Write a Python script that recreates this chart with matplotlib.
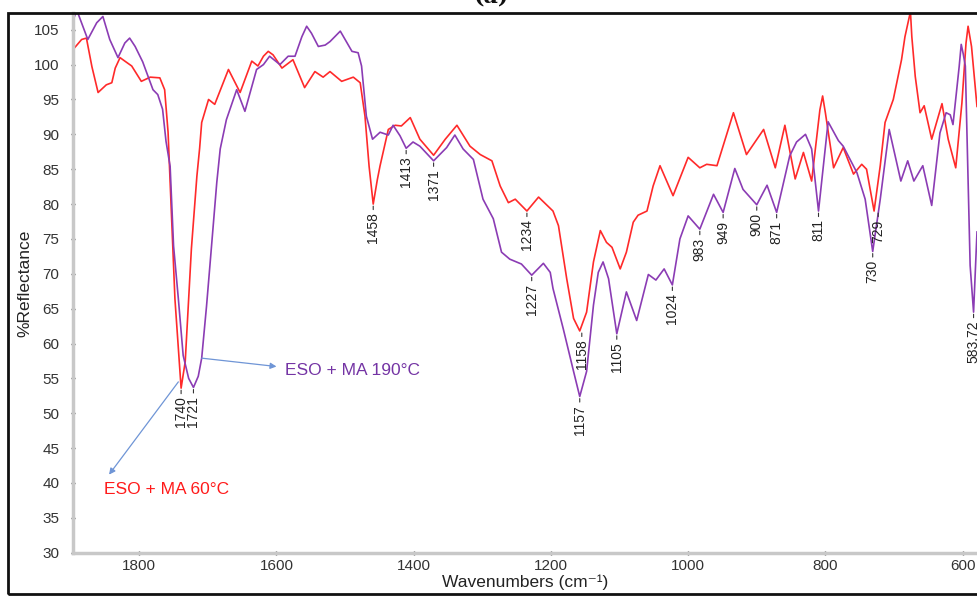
import matplotlib
matplotlib.use('Agg')
import matplotlib.pyplot as plt
from matplotlib.patches import Rectangle
from matplotlib.ticker import MultipleLocator

plt.rcParams['font.family'] = ['Liberation Sans', 'DejaVu Sans']

# ESO + MA 60°C (red)
wn_60 = [1897, 1884, 1877, 1869, 1860, 1848, 1840, 1835, 1828, 1821, 1811, 1797,
         1784, 1770, 1763, 1758,
         1748, 1739, 1733, 1724, 1716, 1712, 1709, 1699, 1690, 1670, 1653, 1636,
         1627, 1619, 1612, 1605, 1592, 1576, 1559, 1544, 1532, 1522, 1505, 1488,
         1478, 1471,
         1465, 1459, 1453, 1449, 1437, 1427, 1418, 1405, 1391, 1371, 1354, 1337,
         1318, 1303, 1286, 1274, 1262, 1252, 1235, 1218, 1197, 1189, 1177, 1167,
         1158, 1148, 1138, 1128, 1119, 1111, 1099, 1090, 1080, 1073, 1060, 1051,
         1041, 1022, 1000, 983, 973, 958, 934, 915, 890, 873, 859, 844,
         832, 820, 808, 804, 800, 788, 774, 759, 747, 740, 729, 720, 713, 701,
         689, 684, 676, 674, 669, 662, 656, 645, 630, 621, 610, 601, 595, 592,
         587, 579]
refl_60 = [102.1, 103.6, 103.8, 99.7, 96.0, 97.1, 97.4, 99.5, 101.0, 100.5, 99.8, 97.6,
           98.2, 98.1, 96.4, 90.3,
           66.4, 53.6, 57.4, 73.6, 84.0, 88.0, 91.7, 95.0, 94.3, 99.3, 96.0, 100.5,
           99.8, 101.2, 101.9, 101.4, 99.5, 100.7, 96.7, 99.0, 98.2, 99.0, 97.6, 98.2,
           97.4, 92.6,
           85.4, 80.0, 83.5, 85.5, 90.7, 91.3, 91.2, 92.4, 89.3, 87.0, 89.3, 91.3,
           88.3, 87.1, 86.2, 82.6, 80.2, 80.7, 79.0, 81.0, 79.0, 76.9, 69.3, 63.6,
           61.8, 64.5, 71.7, 76.2, 74.5, 73.8, 70.7, 73.1, 77.4, 78.4, 79.0, 82.6,
           85.5, 81.2, 86.7, 85.2, 85.7, 85.5, 93.1, 87.1, 90.7, 85.2, 91.3, 83.6,
           87.4, 83.3, 93.5, 95.5, 93.1, 85.2, 88.1, 84.3, 85.7, 85.0, 79.0, 85.5, 91.7, 95.0,
           100.7, 104.0, 107.6, 104.0, 98.3, 93.1, 94.1, 89.3, 94.4, 89.3, 85.2, 94.5, 103.1, 105.5,
           102.6, 94.0]

# ESO + MA 190°C (purple)
wn_190 = [1897, 1891, 1875, 1862, 1853, 1843, 1831, 1821, 1814, 1806, 1795, 1780,
          1773, 1766, 1761, 1755,
          1750, 1743, 1736, 1728, 1721, 1714, 1709, 1702, 1697, 1687, 1682, 1673,
          1658, 1646, 1629, 1619, 1610, 1595, 1583, 1573, 1563, 1556, 1549, 1539,
          1529, 1522,
          1507, 1490, 1481, 1476, 1469, 1460, 1449, 1437, 1430, 1420, 1411, 1401,
          1391, 1371, 1352, 1340, 1328, 1313, 1299, 1284, 1272, 1260, 1243, 1228,
          1211, 1201, 1197, 1182, 1167, 1158, 1148, 1138, 1131, 1124, 1116, 1104,
          1090, 1075, 1058, 1047, 1035, 1023, 1012, 1000, 983, 963, 949, 932,
          920, 900, 885, 871, 852, 842, 829, 820, 810, 796, 781, 774,
          754, 742, 731, 720, 707, 690, 680, 671, 658, 645, 633, 624,
          618, 614, 609, 605, 602, 599, 596, 589, 584, 579]
refl_190 = [106.2, 107.8, 103.6, 106.0, 106.9, 103.6, 101.0, 103.1, 103.8, 102.6, 100.4, 96.4,
            95.7, 93.6, 89.0, 85.4,
            74.0, 66.4, 58.3, 55.0, 53.7, 55.3, 57.9, 65.3, 71.2, 83.1, 87.9, 92.1,
            96.4, 93.3, 99.3, 100.0, 101.2, 100.0, 101.2, 101.2, 104.0, 105.5, 104.5, 102.6,
            102.8, 103.3,
            104.8, 101.9, 101.7, 99.8, 92.6, 89.3, 90.3, 89.9, 91.3, 89.8, 88.0, 88.9,
            88.3, 86.2, 88.1, 89.9, 87.9, 86.4, 80.7, 77.9, 73.1, 72.1, 71.4, 69.8,
            71.5, 70.2, 67.9, 62.1, 56.0, 52.4, 56.0, 65.5, 70.2, 71.7, 69.3, 61.4,
            67.4, 63.3, 69.9, 69.1, 70.7, 68.4, 75.0, 78.3, 76.4, 81.4, 78.8, 85.1,
            82.1, 79.9, 82.7, 78.8, 86.9, 88.9, 90.0, 87.9, 79.0, 91.8, 89.1, 88.3,
            84.5, 80.7, 73.2, 80.7, 90.7, 83.3, 86.2, 83.3, 85.5, 79.8, 90.2, 93.1,
            92.8, 91.4, 96.0, 99.7, 102.9, 101.5, 99.8, 71.2, 64.5, 76.0]

# peak labels: text, wavenumber, reflectance at the minimum
peaks = [('1740', 1739, 53.6), ('1721', 1721, 53.7), ('1458', 1459, 80.0),
         ('1413', 1411, 88.0), ('1371', 1371, 86.2), ('1234', 1235, 79.0),
         ('1227', 1228, 69.8), ('1158', 1155, 61.8), ('1157', 1158, 52.4),
         ('1105', 1104, 61.4), ('1024', 1023, 68.4), ('983', 983, 76.4),
         ('949', 949, 78.8), ('900', 900, 79.9), ('871', 871, 78.8),
         ('811', 810, 79.0), ('730', 731, 73.2), ('729', 723, 79.0),
         ('583.72', 584, 64.5)]

red = '#ff2a2a'
purple = '#8b3cb4'

fig = plt.figure(figsize=(9.77, 5.97), dpi=100)
ax = fig.add_axes([72.7 / 977, 44.3 / 597, 1 - 72.7 / 977, 539.7 / 597])

ax.plot(wn_60, refl_60, color=red, lw=1.2)
ax.plot(wn_190, refl_190, color=purple, lw=1.2)

ax.set_xlim(1897, 579)
ax.set_ylim(30, 107.4)

for txt, x, y in peaks:
    ax.annotate(txt, xy=(x, y), xytext=(0, -6), textcoords='offset points',
                rotation=90, ha='center', va='top', fontsize=10, color='#222',
                arrowprops=dict(arrowstyle='-', color='#333', lw=0.8,
                                shrinkA=0, shrinkB=1.5))

arrow_col = '#6f95d6'
ax.annotate('', xy=(1600, 56.7), xytext=(1709, 57.9),
            arrowprops=dict(arrowstyle='-|>', color=arrow_col, lw=0.9,
                            mutation_scale=9, shrinkA=0, shrinkB=0))
ax.text(1588, 56.1, 'ESO + MA 190°C', color='#7434a4', fontsize=12.5, va='center')
ax.annotate('', xy=(1844, 41.2), xytext=(1743, 54.5),
            arrowprops=dict(arrowstyle='-|>', color=arrow_col, lw=0.9,
                            mutation_scale=9, shrinkA=0, shrinkB=0))
ax.text(1851, 39.0, 'ESO + MA 60°C', color='#ff1a1a', fontsize=12.5, va='center')

ax.xaxis.set_major_locator(MultipleLocator(200))
ax.xaxis.set_minor_locator(MultipleLocator(50))
ax.yaxis.set_major_locator(MultipleLocator(5))
ax.yaxis.set_minor_locator(MultipleLocator(1))

for s in ['top', 'right']:
    ax.spines[s].set_visible(False)
for s in ['left', 'bottom']:
    ax.spines[s].set_color('#c8c8c8')
    ax.spines[s].set_linewidth(2.5)

ax.tick_params(axis='both', which='major', direction='inout', length=3, width=1,
               color='#444', labelsize=11, labelcolor='#333')
ax.tick_params(axis='both', which='minor', direction='inout', length=1.5, width=1,
               color='#777')
ax.tick_params(axis='y', which='major', pad=8)
ax.tick_params(axis='x', which='major', pad=3)

ax.set_xlabel('Wavenumbers (cm⁻¹)', fontsize=12.5, color='#222', labelpad=1)
ax.set_ylabel('%Reflectance', fontsize=12.5, color='#222', labelpad=1)

fig.add_artist(Rectangle((8 / 977, 3 / 597), 1.1, 581 / 597, transform=fig.transFigure,
                         fill=False, edgecolor='#111', lw=2, clip_on=False))
fig.text(492 / 977, 1 - 8 / 597, '(a)', ha='center', va='bottom', fontsize=16,
         fontweight='bold', family='DejaVu Serif', color='#111')

fig.savefig('out.png', dpi=100)
